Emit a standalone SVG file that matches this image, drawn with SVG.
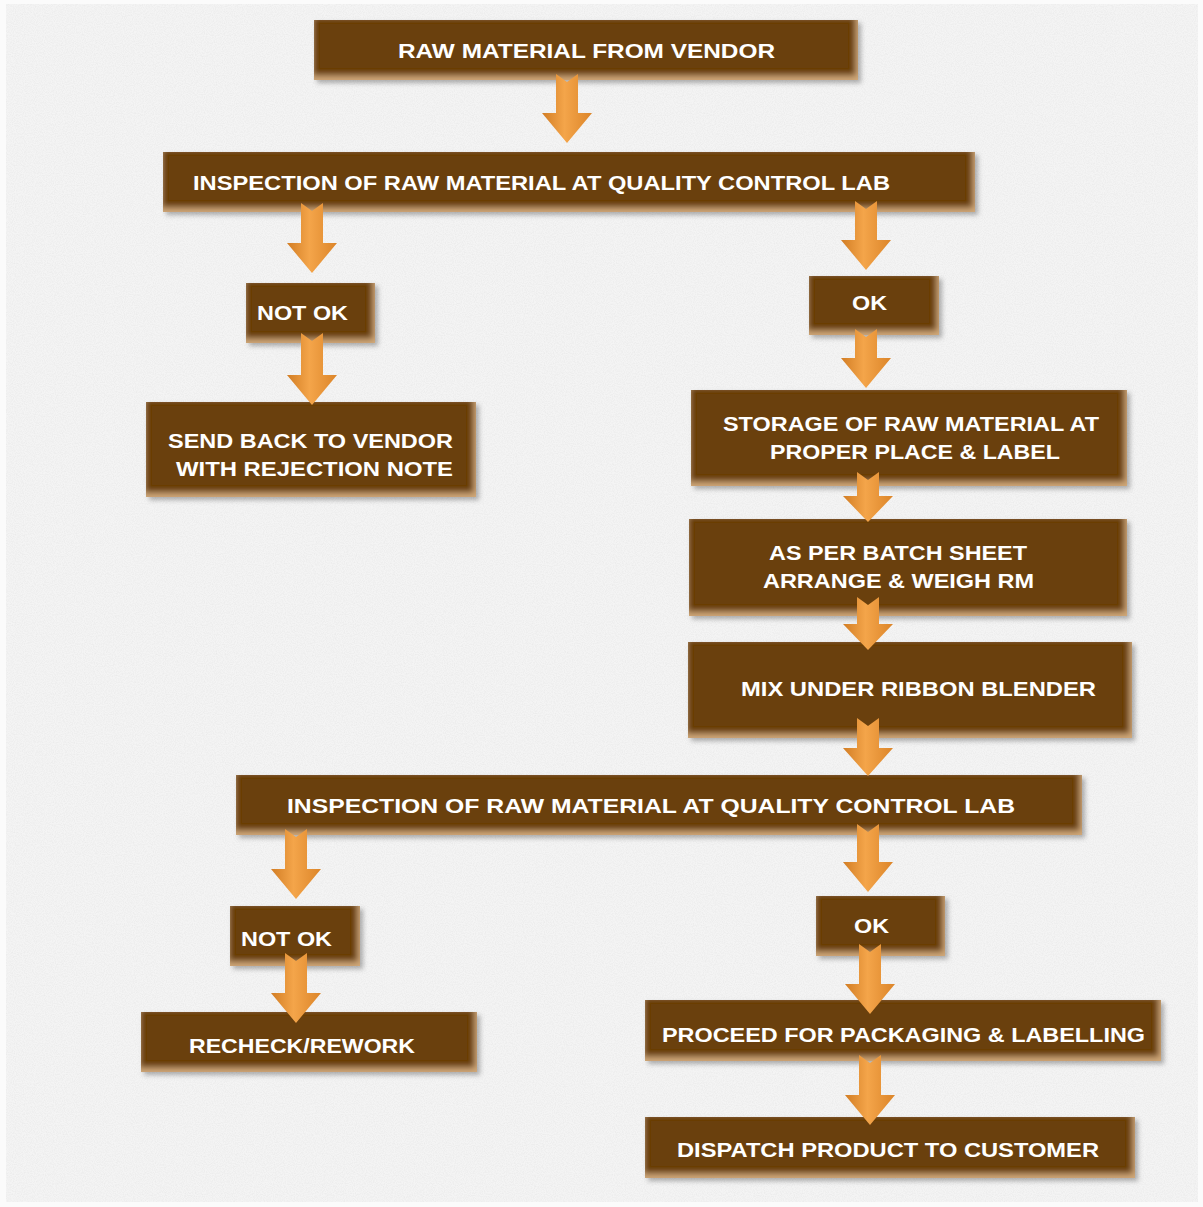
<svg xmlns="http://www.w3.org/2000/svg" width="1203" height="1207" viewBox="0 0 1203 1207">
<defs>
<style>
.box{fill:#6a3f0b;filter:url(#bevel);}
.t{font-family:"Liberation Sans",Arial,sans-serif;font-weight:bold;font-size:21px;fill:#ffffff;}
.arr{fill:url(#ag);}
</style>
<linearGradient id="ag" x1="0" y1="0" x2="1" y2="0">
<stop offset="0" stop-color="#d27d24"/>
<stop offset="0.45" stop-color="#f4a54a"/>
<stop offset="1" stop-color="#dc8529"/>
</linearGradient>
<filter id="bevel" x="-5%" y="-15%" width="112%" height="135%">
<feGaussianBlur in="SourceAlpha" stdDeviation="3" result="b"/>
<feOffset in="b" dx="-2" dy="-4" result="o"/>
<feComposite in="SourceAlpha" in2="o" operator="out" result="edge"/>
<feFlood flood-color="#d2aa7a" result="c"/>
<feComposite in="c" in2="edge" operator="in" result="hl"/>
<feGaussianBlur in="SourceAlpha" stdDeviation="2.5" result="sb"/>
<feOffset in="sb" dx="3" dy="3" result="so"/>
<feFlood flood-color="#000" flood-opacity="0.3" result="sc"/>
<feComposite in="sc" in2="so" operator="in" result="sh"/>
<feMerge><feMergeNode in="sh"/><feMergeNode in="SourceGraphic"/><feMergeNode in="hl"/></feMerge>
</filter>
<filter id="tex" x="0" y="0" width="100%" height="100%">
<feTurbulence type="fractalNoise" baseFrequency="0.9" numOctaves="2" seed="3" result="n"/>
<feColorMatrix in="n" type="matrix" values="0 0 0 0 0.7  0 0 0 0 0.7  0 0 0 0 0.7  0 0 0 0.7 -0.25" result="g"/>
<feComposite in="g" in2="SourceGraphic" operator="in" result="gm"/>
<feMerge><feMergeNode in="SourceGraphic"/><feMergeNode in="gm"/></feMerge>
</filter>
</defs>
<rect x="0" y="0" width="1203" height="1207" fill="#fbfbfb"/>
<rect x="6" y="4" width="1192" height="1198" fill="#f4f4f4" filter="url(#tex)"/>

<g id="n1"><rect class="box" x="314" y="20" width="544" height="60"/><text class="t" x="398" y="58" textLength="377" lengthAdjust="spacingAndGlyphs">RAW MATERIAL FROM VENDOR</text></g>
<g id="n2"><rect class="box" x="163" y="152" width="812" height="60"/><text class="t" x="193" y="190" textLength="697" lengthAdjust="spacingAndGlyphs">INSPECTION OF RAW MATERIAL AT QUALITY CONTROL LAB</text></g>
<g id="n3"><rect class="box" x="246" y="283" width="129" height="60"/><text class="t" x="257" y="320" textLength="91" lengthAdjust="spacingAndGlyphs">NOT OK</text></g>
<g id="n4"><rect class="box" x="809" y="276" width="130" height="59"/><text class="t" x="852" y="310" textLength="35" lengthAdjust="spacingAndGlyphs">OK</text></g>
<g id="n5"><rect class="box" x="146" y="402" width="330" height="95"/><text class="t" x="168" y="448" textLength="285" lengthAdjust="spacingAndGlyphs">SEND BACK TO VENDOR</text><text class="t" x="176" y="476" textLength="277" lengthAdjust="spacingAndGlyphs">WITH REJECTION NOTE</text></g>
<g id="n6"><rect class="box" x="691" y="390" width="436" height="96"/><text class="t" x="723" y="431" textLength="376" lengthAdjust="spacingAndGlyphs">STORAGE OF RAW MATERIAL AT</text><text class="t" x="770" y="459" textLength="290" lengthAdjust="spacingAndGlyphs">PROPER PLACE &amp; LABEL</text></g>
<g id="n7"><rect class="box" x="689" y="519" width="438" height="97"/><text class="t" x="769" y="560" textLength="258" lengthAdjust="spacingAndGlyphs">AS PER BATCH SHEET</text><text class="t" x="763" y="588" textLength="271" lengthAdjust="spacingAndGlyphs">ARRANGE &amp; WEIGH RM</text></g>
<g id="n8"><rect class="box" x="688" y="642" width="444" height="96"/><text class="t" x="741" y="696" textLength="355" lengthAdjust="spacingAndGlyphs">MIX UNDER RIBBON BLENDER</text></g>
<g id="n9"><rect class="box" x="236" y="775" width="846" height="60"/><text class="t" x="287" y="813" textLength="728" lengthAdjust="spacingAndGlyphs">INSPECTION OF RAW MATERIAL AT QUALITY CONTROL LAB</text></g>
<g id="n10"><rect class="box" x="230" y="906" width="130" height="60"/><text class="t" x="241" y="946" textLength="91" lengthAdjust="spacingAndGlyphs">NOT OK</text></g>
<g id="n11"><rect class="box" x="816" y="896" width="129" height="60"/><text class="t" x="854" y="933" textLength="35" lengthAdjust="spacingAndGlyphs">OK</text></g>
<g id="n12"><rect class="box" x="141" y="1012" width="336" height="60"/><text class="t" x="189" y="1053" textLength="226" lengthAdjust="spacingAndGlyphs">RECHECK/REWORK</text></g>
<g id="n13"><rect class="box" x="645" y="1000" width="516" height="61"/><text class="t" x="662" y="1042" textLength="483" lengthAdjust="spacingAndGlyphs">PROCEED FOR PACKAGING &amp; LABELLING</text></g>
<g id="n14"><rect class="box" x="645" y="1117" width="490" height="61"/><text class="t" x="677" y="1157" textLength="422" lengthAdjust="spacingAndGlyphs">DISPATCH PRODUCT TO CUSTOMER</text></g>

<g id="connectors">
<path class="arr" d="M556,74 L567,82 L578,74 L578,113 L592,113 L567,143 L542,113 L556,113 Z"/>
<path class="arr" d="M301,203 L312,211 L323,203 L323,243 L337,243 L312,273 L287,243 L301,243 Z"/>
<path class="arr" d="M855,201 L866,209 L877,201 L877,240 L891,240 L866,270 L841,240 L855,240 Z"/>
<path class="arr" d="M301,333 L312,341 L323,333 L323,375 L337,375 L312,405 L287,375 L301,375 Z"/>
<path class="arr" d="M855,329 L866,337 L877,329 L877,358 L891,358 L866,388 L841,358 L855,358 Z"/>
<path class="arr" d="M857,472 L868,480 L879,472 L879,496 L893,496 L868,522 L843,496 L857,496 Z"/>
<path class="arr" d="M857,597 L868,605 L879,597 L879,624 L893,624 L868,650 L843,624 L857,624 Z"/>
<path class="arr" d="M857,718 L868,726 L879,718 L879,748 L893,748 L868,776 L843,748 L857,748 Z"/>
<path class="arr" d="M285,829 L296,837 L307,829 L307,869 L321,869 L296,899 L271,869 L285,869 Z"/>
<path class="arr" d="M857,824 L868,832 L879,824 L879,862 L893,862 L868,892 L843,862 L857,862 Z"/>
<path class="arr" d="M285,953 L296,961 L307,953 L307,993 L321,993 L296,1023 L271,993 L285,993 Z"/>
<path class="arr" d="M859,944 L870,952 L881,944 L881,984 L895,984 L870,1014 L845,984 L859,984 Z"/>
<path class="arr" d="M859,1055 L870,1063 L881,1055 L881,1095 L895,1095 L870,1125 L845,1095 L859,1095 Z"/>
</g>
</svg>
